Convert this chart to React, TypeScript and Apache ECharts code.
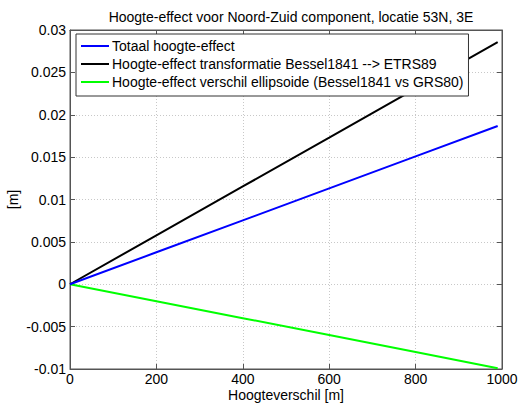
import React, { useEffect, useRef } from "react";
import * as echarts from "echarts";

const heights = [0, 200, 400, 600, 800, 990];
const totaal = [0, 0.00377, 0.00754, 0.01131, 0.01509, 0.01867];
const transformatie = [0, 0.00577, 0.01154, 0.01731, 0.02309, 0.02857];
const ellipsoide = [0, -0.002, -0.004, -0.006, -0.008, -0.0099];
const seriesNames = [
  "Totaal hoogte-effect",
  "Hoogte-effect transformatie Bessel1841 --> ETRS89",
  "Hoogte-effect verschil ellipsoide (Bessel1841 vs GRS80)",
];
const seriesColors = ["#0000ff", "#000000", "#00ff00"];

const FONT = "Liberation Sans, Arial, sans-serif";
const FS = 14;

export default function App() {
  const ref = useRef<HTMLDivElement>(null);
  useEffect(() => {
    const chart = echarts.init(ref.current!, null, { renderer: "svg" });
    const mk = (ys: number[]) => heights.map((h, i) => [h, ys[i]]);
    const datas = [totaal, transformatie, ellipsoide];
    const fmt = (v: number) => String(parseFloat(v.toFixed(4)));
    chart.setOption({
      animation: false,
      backgroundColor: "#ffffff",
      textStyle: { fontFamily: FONT },
      title: {
        text: "Hoogte-effect voor Noord-Zuid component, locatie 53N, 3E",
        left: 286,
        textAlign: "center",
        top: 5,
        textStyle: { fontSize: FS, fontWeight: "normal", color: "#000", fontFamily: FONT },
      },
      grid: {
        left: 70,
        right: 17,
        top: 30,
        bottom: 34,
        show: true,
        borderColor: "#555",
        borderWidth: 1,
        containLabel: false,
        outerBoundsMode: "none",
      },
      legend: {
        orient: "vertical",
        left: 76,
        top: 34,
        padding: [5, 5, 7, 5],
        itemGap: 4,
        itemWidth: 28,
        itemHeight: 2,
        icon: "rect",
        backgroundColor: "#ffffff",
        borderColor: "#333",
        borderWidth: 1,
        borderRadius: 0,
        textStyle: { fontSize: FS, color: "#000", fontFamily: FONT, padding: [0, 0, 0, -2] },
        data: seriesNames,
      },
      xAxis: [
        {
          type: "value",
          min: 0,
          max: 1000,
          interval: 200,
          name: "Hoogteverschil [m]",
          nameLocation: "middle",
          nameGap: 19,
          nameMoveOverlap: false,
          nameTextStyle: { fontSize: FS, color: "#000", fontFamily: FONT, verticalAlign: "top" },
          axisLine: { show: true, onZero: false, lineStyle: { color: "#555" } },
          axisTick: { show: true, inside: true, length: 5, lineStyle: { color: "#555" } },
          axisLabel: { fontSize: FS, color: "#000", margin: 3, fontFamily: FONT, formatter: (v: number) => String(v) },
          splitLine: { show: true, lineStyle: { color: "#c8c8c8", type: [1, 2] } },
        },
        {
          type: "value",
          position: "top",
          min: 0,
          max: 1000,
          interval: 200,
          axisLine: { show: true, onZero: false, lineStyle: { color: "#555" } },
          axisTick: { show: true, inside: true, length: 5, lineStyle: { color: "#555" } },
          axisLabel: { show: false },
          splitLine: { show: false },
        },
      ],
      yAxis: [
        {
          type: "value",
          min: -0.01,
          max: 0.03,
          interval: 0.005,
          name: "[m]",
          nameLocation: "middle",
          nameGap: 50,
          nameMoveOverlap: false,
          nameRotate: 90,
          nameTextStyle: { fontSize: FS, color: "#000", fontFamily: FONT },
          axisLine: { show: true, onZero: false, lineStyle: { color: "#555" } },
          axisTick: { show: true, inside: true, length: 5, lineStyle: { color: "#555" } },
          axisLabel: { fontSize: FS, color: "#000", margin: 4, formatter: fmt, fontFamily: FONT },
          splitLine: { show: true, lineStyle: { color: "#c8c8c8", type: [1, 2] } },
        },
        {
          type: "value",
          position: "right",
          min: -0.01,
          max: 0.03,
          interval: 0.005,
          axisLine: { show: true, onZero: false, lineStyle: { color: "#555" } },
          axisTick: { show: true, inside: true, length: 5, lineStyle: { color: "#555" } },
          axisLabel: { show: false },
          splitLine: { show: false },
        },
      ],
      series: seriesNames.map((name, i) => ({
        name,
        type: "line",
        xAxisIndex: 0,
        yAxisIndex: 0,
        data: mk(datas[i]),
        showSymbol: false,
        symbol: "none",
        lineStyle: { color: seriesColors[i], width: 2 },
        itemStyle: { color: seriesColors[i] },
        z: 3 - i,
      })),
    });
    return () => chart.dispose();
  }, []);
  return <div ref={ref} style={{ width: 519, height: 403, position: "absolute", left: 0, top: 0 }} />;
}
